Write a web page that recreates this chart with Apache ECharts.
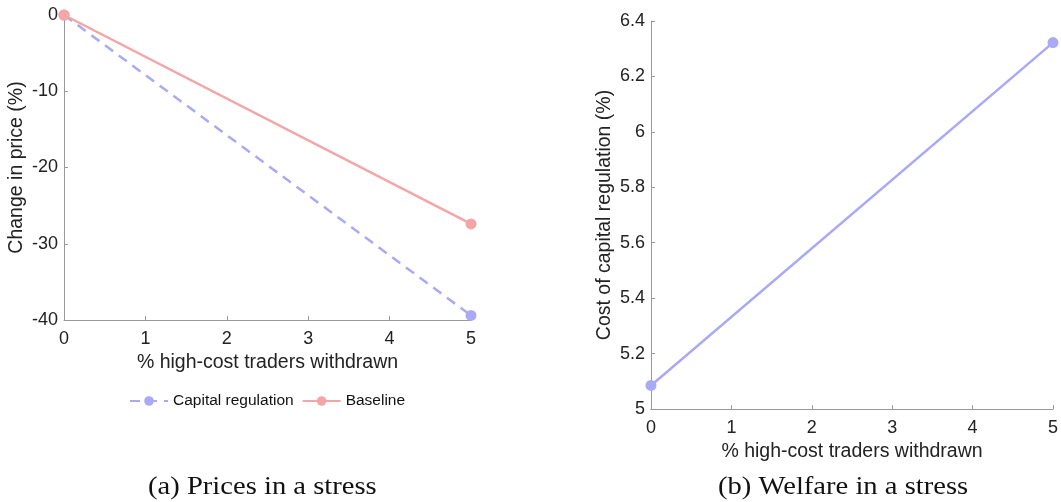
<!DOCTYPE html>
<html><head><meta charset="utf-8">
<script src="https://cdn.jsdelivr.net/npm/echarts@6/dist/echarts.min.js"></script>
<style>html,body{margin:0;padding:0;background:#fff}#c{width:1061px;height:502px}</style>
</head><body><div id="c"></div>
<script>
const xVals = [0, 5];
const capitalRegulation = [0, -39.4];
const baseline = [0, -27.4];
const costOfCapital = [5.085, 6.322];
const xTicks = [0, 1, 2, 3, 4, 5];
const leftYTicks = [-40, -30, -20, -10, 0];
const rightYTicks = [5, 5.2, 5.4, 5.6, 5.8, 6, 6.2, 6.4];
const BLUE = '#a9a9f5', PINK = '#f4a5a5';
const font = 'Liberation Sans, Arial, sans-serif';
const TICK = 18, NAME = 19.5;

function axisCommon() {
  return {
    axisLine: {show: true, onZero: false, lineStyle: {color: '#999', width: 1}},
    axisTick: {show: true, inside: true, length: 4, lineStyle: {color: '#999'}},
    splitLine: {show: false},
    nameTextStyle: {color: '#222', fontSize: NAME, fontFamily: font},
    axisLabel: {color: '#222', fontSize: TICK, fontFamily: font, margin: 10}
  };
}
const chart = echarts.init(document.getElementById('c'));
chart.setOption({
  animation: false,
  grid: [
    {left: 64, right: 590, top: 15, bottom: 182, containLabel: false},
    {left: 651, right: 3, top: 21, bottom: 93, containLabel: false}
  ],
  xAxis: [
    Object.assign(axisCommon(), {gridIndex: 0, type: 'value', min: xTicks[0], max: xTicks[xTicks.length-1], interval: 1,
      name: '% high-cost traders withdrawn', nameLocation: 'middle', nameGap: 33}),
    Object.assign(axisCommon(), {gridIndex: 1, type: 'value', min: xTicks[0], max: xTicks[xTicks.length-1], interval: 1,
      name: '% high-cost traders withdrawn', nameLocation: 'middle', nameGap: 32})
  ],
  yAxis: [
    Object.assign(axisCommon(), {gridIndex: 0, type: 'value', min: leftYTicks[0], max: leftYTicks[leftYTicks.length-1], interval: 10,
      name: 'Change in price (%)', nameLocation: 'middle', nameGap: 37, nameRotate: 90,
      axisLabel: {color: '#222', fontSize: TICK, fontFamily: font, margin: 6}}),
    Object.assign(axisCommon(), {gridIndex: 1, type: 'value', min: rightYTicks[0], max: rightYTicks[rightYTicks.length-1], interval: 0.2,
      name: 'Cost of capital regulation (%)', nameLocation: 'middle', nameGap: 36, nameRotate: 90,
      axisLabel: {color: '#222', fontSize: TICK, fontFamily: font, margin: 6, formatter: v => String(+v.toFixed(1))}})
  ],
  legend: {
    left: 124, top: 388, itemGap: 8, itemWidth: 38, itemHeight: 12,
    textStyle: {color: '#111', fontSize: 15.5, fontFamily: font},
    data: ['Capital regulation', 'Baseline']
  },
  series: [
    {name: 'Capital regulation', type: 'line', xAxisIndex: 0, yAxisIndex: 0,
      data: xVals.map((x, i) => [x, capitalRegulation[i]]),
      symbol: 'circle', symbolSize: 11, showSymbol: true,
      lineStyle: {color: BLUE, width: 2.5, type: [10, 7]}, itemStyle: {color: BLUE}, z: 2},
    {name: 'Baseline', type: 'line', xAxisIndex: 0, yAxisIndex: 0,
      data: xVals.map((x, i) => [x, baseline[i]]),
      symbol: 'circle', symbolSize: 11,
      lineStyle: {color: PINK, width: 2.5}, itemStyle: {color: PINK}, z: 3},
    {name: 'Cost', type: 'line', xAxisIndex: 1, yAxisIndex: 1,
      data: xVals.map((x, i) => [x, costOfCapital[i]]),
      symbol: 'circle', symbolSize: 11, clip: false,
      lineStyle: {color: BLUE, width: 2.5}, itemStyle: {color: BLUE}}
  ],
  graphic: [
    {type: 'text', x: 148, y: 474, scaleX: 1.1, style: {text: '(a) Prices in a stress', fill: '#111', font: '26px "Liberation Serif", "DejaVu Serif", serif'}},
    {type: 'text', x: 718, y: 474, scaleX: 1.1, style: {text: '(b) Welfare in a stress', fill: '#111', font: '26px "Liberation Serif", "DejaVu Serif", serif'}}
  ]
});
</script></body></html>
